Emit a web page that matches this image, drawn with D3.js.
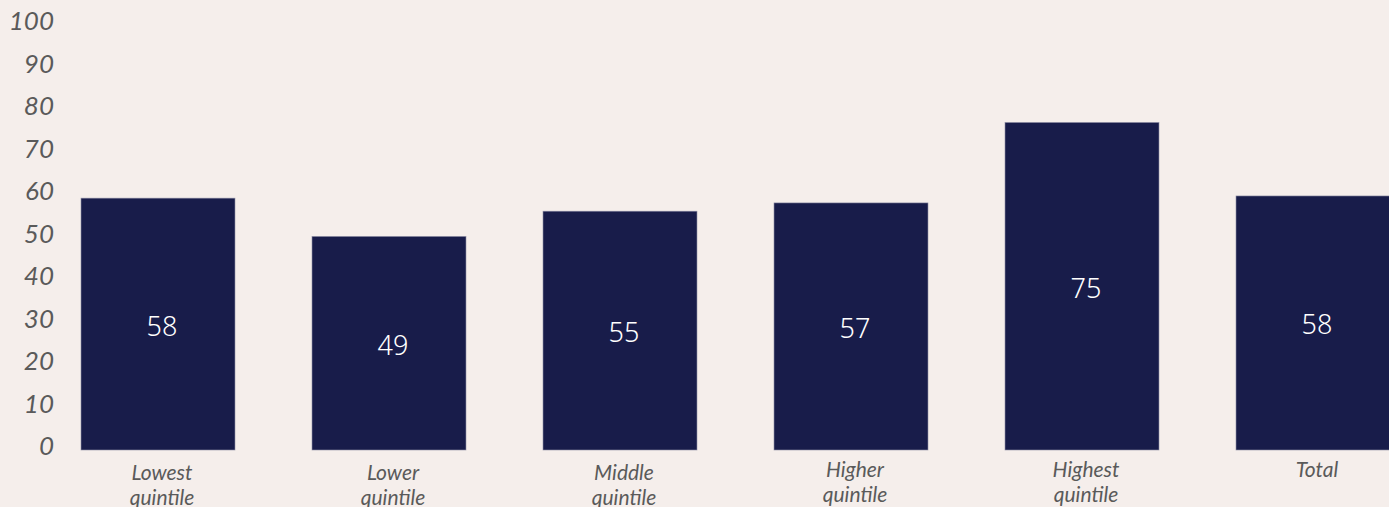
<!DOCTYPE html>
<html>
<head>
<meta charset="utf-8">
<script src="https://cdn.jsdelivr.net/npm/d3@7"></script>
<style>
  html, body { margin: 0; padding: 0; background: #f5eeeb; overflow: hidden; }
  svg { display: block; }
</style>
</head>
<body>
<svg id="chart" width="1389" height="507"></svg>
<script>
const categories = [["Lowest", "quintile"], ["Lower", "quintile"], ["Middle", "quintile"], ["Higher", "quintile"], ["Highest", "quintile"], ["Total"]];
const categoryKeys = ["Lowest quintile", "Lower quintile", "Middle quintile", "Higher quintile", "Highest quintile", "Total"];
const values = [57.9, 49.1, 54.9, 56.8, 75.3, 58.4];
const yTicks = [0, 10, 20, 30, 40, 50, 60, 70, 80, 90, 100];

const svg = d3.select("#chart");
const W = 1389, H = 507;
svg.append("rect").attr("width", W).attr("height", H).attr("fill", "#f5eeeb");

const x = d3.scaleBand().domain(categoryKeys).range([42.5, 1428.5])
  .paddingInner(1/3).paddingOuter(1/6);
const y = d3.scaleLinear().domain([0, 100]).range([450, 15]);
const yLabel = d3.scaleLinear().domain([0, 100]).range([445, 20]);

// y tick labels
svg.append("g").selectAll("text").data(yTicks).join("text")
  .attr("x", 54)
  .attr("y", d => yLabel(d))
  .attr("text-anchor", "end")
  .attr("dominant-baseline", "central")
  .attr("font-family", "Lato, 'Open Sans', sans-serif")
  .attr("font-style", "italic")
  .attr("font-size", 26)
  .attr("fill", "#5a5a5a")
  .text(d => d);

// bars
svg.append("g").selectAll("rect").data(values).join("rect")
  .attr("x", (d, i) => x(categoryKeys[i]))
  .attr("y", d => y(d))
  .attr("width", x.bandwidth())
  .attr("height", d => y(0) - y(d))
  .attr("fill", "#181c4a")
  .attr("stroke", "#8f8fa6")
  .attr("stroke-width", 0.6);

// value labels
svg.append("g").selectAll("text").data(values).join("text")
  .attr("x", (d, i) => x(categoryKeys[i]) + x.bandwidth() / 2 + 4)
  .attr("y", d => (y(d) + y(0)) / 2 + 1)
  .attr("text-anchor", "middle")
  .attr("dominant-baseline", "central")
  .attr("font-family", "'Noto Sans', 'Open Sans', sans-serif")
  .attr("font-weight", 300)
  .attr("font-size", 27)
  .attr("fill", "#ffffff")
  .text(d => d3.format(".0f")(d));

// category labels
const cat = svg.append("g").selectAll("text").data(categories).join("text")
  .attr("text-anchor", "middle")
  .attr("dominant-baseline", "central")
  .attr("font-family", "Lato, 'Open Sans', sans-serif")
  .attr("font-style", "italic")
  .attr("font-size", 21)
  .attr("fill", "#5a5a5a");
cat.each(function(d, i) {
  const t = d3.select(this);
  const cx = x(categoryKeys[i]) + x.bandwidth() / 2 + 4;
  t.attr("y", d.length > 1 && i < 3 ? 471 : 468);
  d.forEach((line, j) => {
    t.append("tspan")
      .attr("x", cx)
      .attr("dy", j === 0 ? 0 : 25)
      .text(line);
  });
});
</script>
</body>
</html>
